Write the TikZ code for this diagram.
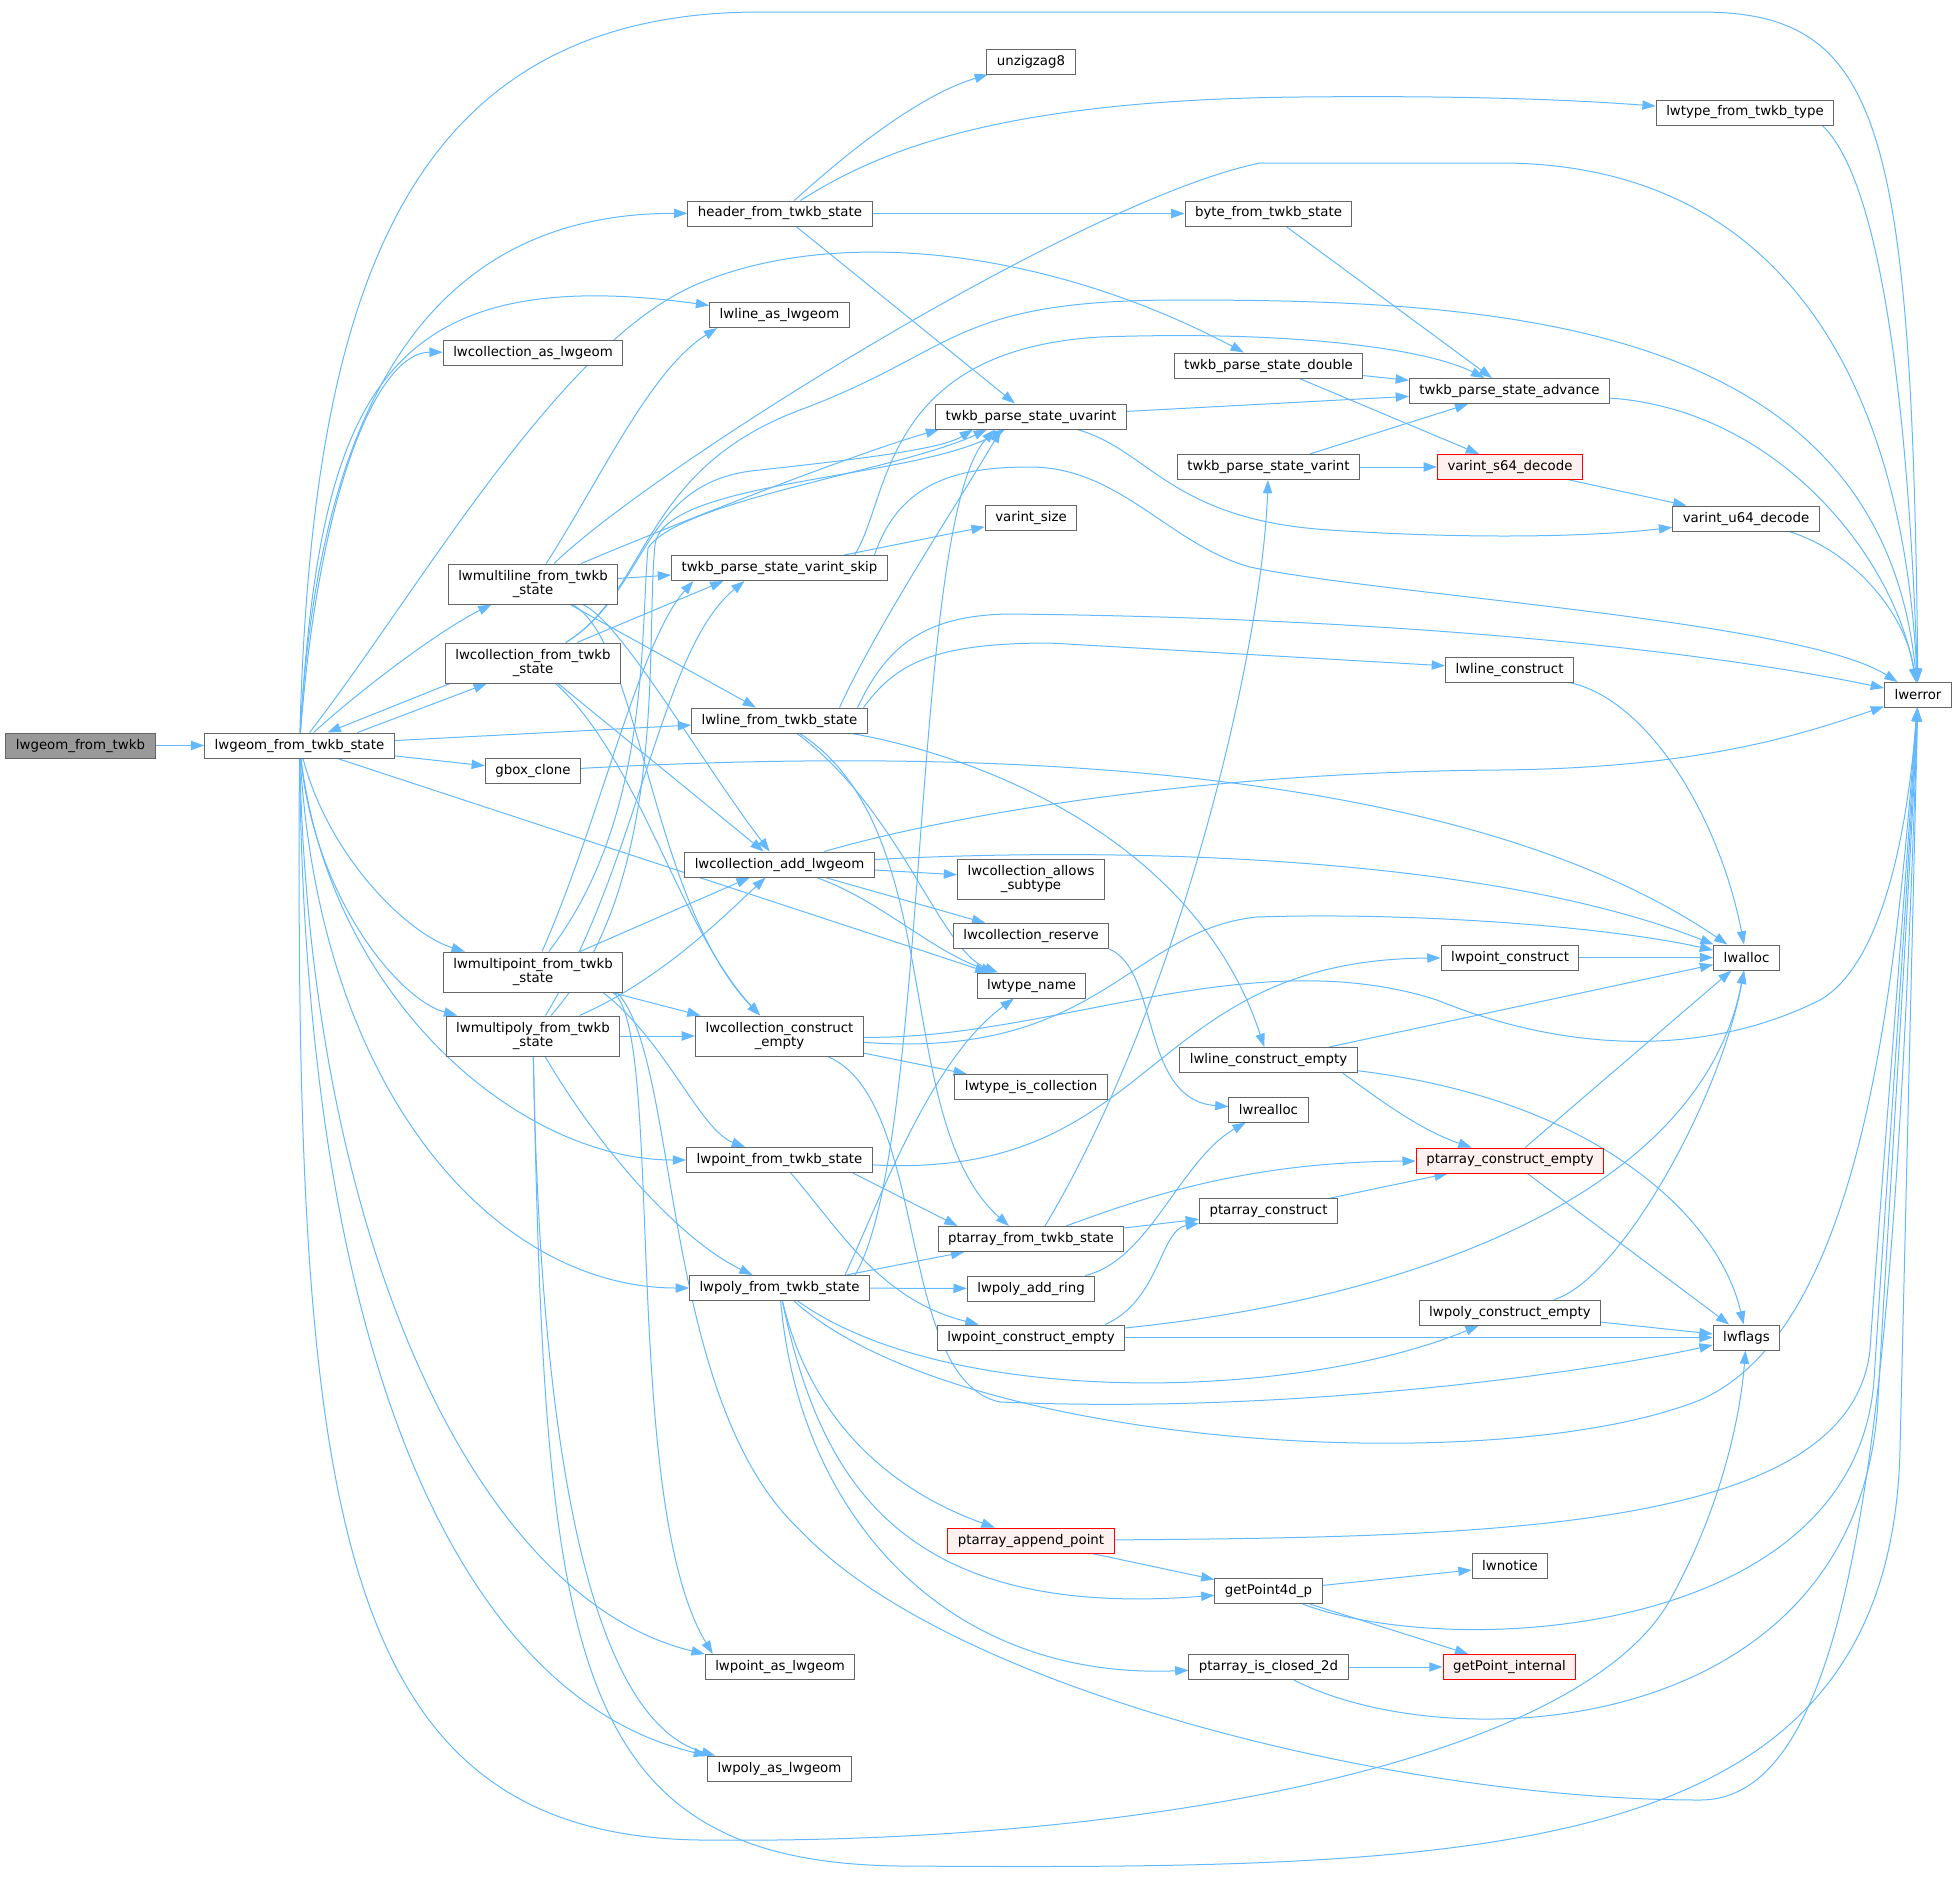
\documentclass[tikz,border=0pt]{standalone}
\usepackage{fontspec}
\setmainfont{DejaVu Sans}
\usepackage{xcolor}
\definecolor{edgeblue}{RGB}{99,184,255}
\definecolor{boxgrey}{RGB}{102,102,102}
\definecolor{rootgrey}{RGB}{153,153,153}
\definecolor{redline}{RGB}{255,0,0}
\definecolor{redfill}{RGB}{255,240,240}
\usetikzlibrary{arrows.meta,backgrounds,calc}

\begin{document}
\begin{tikzpicture}[x=0.75pt,y=-0.75pt,
  font=\fontsize{10}{11}\selectfont,
  fn/.style={draw=boxgrey,fill=white,line width=0.75pt,inner xsep=7.5pt,inner ysep=1pt,minimum height=18.75pt},
  fn2/.style={fn,align=center,minimum height=30pt},
  fnred/.style={fn,draw=redline,fill=redfill},
  fnroot/.style={fn,fill=rootgrey},
  call/.style={draw=edgeblue,line width=0.75pt,-{Triangle[length=10pt,width=7pt]}}]
\useasboundingbox (0,0) rectangle (1957,1882);

\node[fnroot] (root) at (80.5,745.5) {lwgeom\_from\_twkb};
\node[fn] (state) at (299.5,745.5) {lwgeom\_from\_twkb\_state};
\node[fn] (header) at (780,213.5) {header\_from\_twkb\_state};
\node[fn] (unzig) at (1031,61.5) {unzigzag8};
\node[fn] (typefrom) at (1745,112.5) {lwtype\_from\_twkb\_type};
\node[fn] (byte) at (1268.5,213.5) {byte\_from\_twkb\_state};
\node[fn] (lineas) at (779.5,315) {lwline\_as\_lwgeom};
\node[fn] (collas) at (533,352.5) {lwcollection\_as\_lwgeom};
\node[fn] (dbl) at (1268.5,365.5) {twkb\_parse\_state\_double};
\node[fn] (adv) at (1509.5,391) {twkb\_parse\_state\_advance};
\node[fn] (uvar) at (1031,416.5) {twkb\_parse\_state\_uvarint};
\node[fn] (svar) at (1268.5,467) {twkb\_parse\_state\_varint};
\node[fnred] (s64) at (1510,467) {varint\_s64\_decode};
\node[fn] (vsize) at (1031,517.5) {varint\_size};
\node[fn] (u64) at (1746,518.5) {varint\_u64\_decode};
\node[fn] (skip) at (779.5,568) {twkb\_parse\_state\_varint\_skip};
\node[fn2] (mline) at (533,584) {lwmultiline\_from\_twkb\\\_state};
\node[fn2] (collfrom) at (533,663) {lwcollection\_from\_twkb\\\_state};
\node[fn] (lcons) at (1509.5,669.5) {lwline\_construct};
\node[fn] (err) at (1918,695) {lwerror};
\node[fn] (linefrom) at (779.5,720.5) {lwline\_from\_twkb\_state};
\node[fn] (gbox) at (533,771) {gbox\_clone};
\node[fn] (addgeom) at (779.5,864.5) {lwcollection\_add\_lwgeom};
\node[fn2] (allows) at (1031,879) {lwcollection\_allows\\\_subtype};
\node[fn] (reserve) at (1031,936) {lwcollection\_reserve};
\node[fn2] (mpoint) at (533,972) {lwmultipoint\_from\_twkb\\\_state};
\node[fn] (pcons) at (1510,957.5) {lwpoint\_construct};
\node[fn] (alloc) at (1746.5,957.5) {lwalloc};
\node[fn] (tname) at (1031.5,985.5) {lwtype\_name};
\node[fn2] (mpoly) at (533,1036) {lwmultipoly\_from\_twkb\\\_state};
\node[fn2] (cempty) at (779.5,1036) {lwcollection\_construct\\\_empty};
\node[fn] (lcempty) at (1268.5,1060) {lwline\_construct\_empty};
\node[fn] (iscoll) at (1031,1087) {lwtype\_is\_collection};
\node[fn] (realloc) at (1268.5,1109.5) {lwrealloc};
\node[fnred] (paempty) at (1510,1160.5) {ptarray\_construct\_empty};
\node[fn] (pointfrom) at (779.5,1160) {lwpoint\_from\_twkb\_state};
\node[fn] (pafrom) at (1031,1239) {ptarray\_from\_twkb\_state};
\node[fn] (pacons) at (1268.5,1211) {ptarray\_construct};
\node[fn] (polyfrom) at (779.5,1288) {lwpoly\_from\_twkb\_state};
\node[fn] (addring) at (1031,1288.5) {lwpoly\_add\_ring};
\node[fn] (polyempty) at (1510,1312.5) {lwpoly\_construct\_empty};
\node[fn] (ptempty) at (1031,1337.5) {lwpoint\_construct\_empty};
\node[fn] (flags) at (1746.5,1337.5) {lwflags};
\node[fnred] (append) at (1031,1540.5) {ptarray\_append\_point};
\node[fn] (notice) at (1510,1566) {lwnotice};
\node[fn] (gp4d) at (1268.5,1591) {getPoint4d\_p};
\node[fn] (pointas) at (780,1667) {lwpoint\_as\_lwgeom};
\node[fn] (closed) at (1268.5,1667) {ptarray\_is\_closed\_2d};
\node[fnred] (gpint) at (1509.5,1667) {getPoint\_internal};
\node[fn] (polyas) at (779.5,1768.5) {lwpoly\_as\_lwgeom};

\begin{scope}[on background layer]
\draw[call] (root) -- (state);
\draw[call] (state) .. controls (312,300) and (400,12) .. (760,12) -- (1700,12) .. controls (1880,12) and (1912,120) .. (err);
\draw[call] (state) .. controls (318,420) and (420,213) .. (header);
\draw[call] (state) .. controls (320,400) and (380,260) .. (lineas);
\draw[call] (state) .. controls (320,480) and (380,352) .. (collas);
\draw[call] (state) .. controls (420,590) and (560,340) .. (700,283) .. controls (840,225) and (1050,250) .. (dbl);
\draw[call] (state) .. controls (360,690) and (440,630) .. (mline);
\draw[call] ($(state.north)+(58,0)$) -- ($(collfrom.south)+(-46,0)$);
\draw[call] ($(collfrom.south)+(-83,0)$) -- ($(state.north)+(28,0)$);
\draw[call] (state) -- (linefrom);
\draw[call] (state) -- (gbox);
\draw[call] ($(state.south)+(38,0)$) -- ($(tname.north west)+(12,0)$);
\draw[call] (state) .. controls (330,860) and (410,935) .. (mpoint);
\draw[call] (state) .. controls (315,900) and (400,1000) .. (mpoly);
\draw[call] (state) .. controls (330,1000) and (520,1160) .. (pointfrom);
\draw[call] (state) .. controls (320,1100) and (500,1288) .. (polyfrom);
\draw[call] (state) .. controls (310,1250) and (480,1600) .. (pointas.north west);
\draw[call] (state) .. controls (305,1380) and (470,1700) .. (polyas.north west);
\draw[call] (state) .. controls (295,1500) and (330,1835) .. (700,1840) .. controls (1150,1845) and (1580,1760) .. (1670,1600) .. controls (1720,1510) and (1740,1420) .. (flags);

\draw[call] (header) .. controls (850,150) and (920,95) .. (unzig);
\draw[call] (header) .. controls (880,150) and (1000,100) .. (1300,97) .. controls (1500,95) and (1600,102) .. (typefrom);
\draw[call] (header) -- (byte);
\draw[call] (header) -- (uvar);
\draw[call] (byte) -- (adv);
\draw[call] ($(typefrom.south east)+(-12,0)$) .. controls (1880,180) and (1908,400) .. (err);
\draw[call] (dbl) -- (adv);
\draw[call] (dbl) -- (s64);
\draw[call] (svar) -- (adv);
\draw[call] (svar) -- (s64);
\draw[call] (uvar) -- (adv);
\draw[call] (uvar) .. controls (1150,450) and (1170,520) .. (1330,530) .. controls (1480,540) and (1600,536) .. (u64);
\draw[call] (s64) -- (u64);
\draw[call] (adv) .. controls (1780,410) and (1895,560) .. (err);
\draw[call] (u64) .. controls (1850,550) and (1905,610) .. (err);

\draw[call] (skip) -- (vsize);
\draw[call] ($(skip.north)+(75,0)$) .. controls (890,500) and (880,350) .. (1100,337) .. controls (1300,330) and (1430,350) .. (adv);
\draw[call] ($(skip.north)+(95,0)$) .. controls (900,480) and (960,467) .. (1030,467) .. controls (1120,467) and (1170,545) .. (1250,567) .. controls (1380,595) and (1800,620) .. (err);

\draw[call] (mline) .. controls (650,470) and (1080,200) .. (1260,163) -- (1500,163) .. controls (1760,163) and (1900,350) .. (err);
\draw[call] (mline) .. controls (600,480) and (650,370) .. ($(lineas.south west)+(8,0)$);
\draw[call] (mline) .. controls (660,530) and (850,455) .. ($(uvar.south west)+(4,0)$);
\draw[call] (mline) -- (skip);
\draw[call] (mline) -- (linefrom);
\draw[call] (mline) .. controls (620,620) and (700,760) .. (addgeom);
\draw[call] (mline) .. controls (640,640) and (650,900) .. (cempty);

\draw[call] (collfrom) .. controls (650,590) and (640,470) .. (800,410) .. controls (960,350) and (950,300) .. (1180,300) .. controls (1500,300) and (1880,320) .. (err);
\draw[call] (collfrom) .. controls (650,590) and (640,480) .. (760,470) .. controls (850,460) and (940,450) .. ($(uvar.south)+(-58,0)$);
\draw[call] ($(collfrom.north)+(44,0)$) -- ($(skip.south)+(-56,0)$);
\draw[call] (collfrom) -- (addgeom);
\draw[call] (collfrom) .. controls (640,760) and (680,930) .. (cempty);

\draw[call] (gbox) .. controls (1100,740) and (1500,790) .. (alloc);

\draw[call] (addgeom) -- (allows);
\draw[call] (addgeom) -- (reserve);
\draw[call] (addgeom) .. controls (880,900) and (930,950) .. (tname);
\draw[call] (addgeom) .. controls (1150,845) and (1500,860) .. (alloc);
\draw[call] (addgeom) .. controls (950,815) and (1200,772) .. (1500,770) .. controls (1700,768) and (1800,735) .. (err);

\draw[call] (lcons) .. controls (1650,700) and (1720,820) .. (alloc);
\draw[call] (pcons) -- (alloc);

\draw[call] ($(linefrom.north)+(78,0)$) .. controls (885,650) and (920,615) .. (1010,614) .. controls (1400,618) and (1700,650) .. (err);
\draw[call] ($(linefrom.north)+(84,0)$) .. controls (895,665) and (930,643) .. (1050,643) -- (lcons);
\draw[call] (linefrom) .. controls (1000,760) and (1200,850) .. (lcempty);
\draw[call] ($(linefrom.north)+(60,0)$) .. controls (880,620) and (960,500) .. ($(uvar.south)+(-30,0)$);
\draw[call] (linefrom) .. controls (950,830) and (890,1120) .. ($(pafrom.north)+(-22,0)$);
\draw[call] (linefrom) .. controls (900,810) and (940,950) .. (tname);

\draw[call] ($(pointfrom.south east)+(-20,0)$) -- ($(pafrom.north west)+(20,0)$);
\draw[call] (pointfrom) .. controls (840,1230) and (880,1300) .. (ptempty);
\draw[call] (pointfrom) .. controls (1160,1180) and (1140,960) .. (pcons);

\draw[call] ($(polyfrom.north east)+(-25,0)$) .. controls (880,1200) and (930,1060) .. (tname);
\draw[call] (polyfrom) -- (pafrom);
\draw[call] ($(polyfrom.north east)+(-15,0)$) .. controls (930,1150) and (910,520) .. ($(uvar.south)+(-36,0)$);
\draw[call] (polyfrom) -- (addring);
\draw[call] (polyfrom) .. controls (950,1410) and (1300,1400) .. (polyempty);
\draw[call] (polyfrom) .. controls (960,1450) and (1500,1480) .. (1700,1400) .. controls (1860,1330) and (1895,1000) .. (err);
\draw[call] (polyfrom) .. controls (810,1420) and (890,1490) .. (append);
\draw[call] (polyfrom) .. controls (820,1480) and (900,1620) .. (gp4d);
\draw[call] (polyfrom) .. controls (800,1520) and (950,1680) .. (closed);

\draw[call] (mpoint) -- (addgeom);
\draw[call] (mpoint) .. controls (600,820) and (640,640) .. ($(skip.south)+(-86,0)$);
\draw[call] (mpoint) .. controls (650,820) and (640,640) .. (648,548) .. controls (680,500) and (900,470) .. ($(uvar.south)+(-44,0)$);
\draw[call] (mpoint) -- (cempty);
\draw[call] ($(mpoint.south)+(70,0)$) .. controls (665,1040) and (700,1130) .. (pointfrom);
\draw[call] ($(mpoint.south east)+(-10,0)$) .. controls (665,1030) and (620,1500) .. ($(pointas.north west)+(8,0)$);
\draw[call] ($(mpoint.south east)+(-6,0)$) .. controls (680,1060) and (660,1400) .. (800,1530) .. controls (950,1690) and (1400,1800) .. (1700,1800) .. controls (1860,1800) and (1895,1400) .. (err);

\draw[call] (mpoly) -- (cempty);
\draw[call] (mpoly) .. controls (660,980) and (720,920) .. (addgeom);
\draw[call] (mpoly) .. controls (640,860) and (660,650) .. ($(skip.south)+(-35,0)$);
\draw[call] (mpoly) .. controls (670,880) and (645,640) .. (655,545) .. controls (662,480) and (910,480) .. ($(uvar.south)+(-26,0)$);
\draw[call] (mpoly) .. controls (600,1150) and (680,1240) .. (polyfrom);
\draw[call] (mpoly) .. controls (540,1450) and (590,1720) .. ($(polyas.north west)+(8,0)$);
\draw[call] (mpoly) .. controls (545,1650) and (565,1862) .. (900,1866) .. controls (1500,1870) and (1890,1860) .. (1900,1450) -- (err);

\draw[call] (cempty) -- (iscoll);
\draw[call] (cempty) .. controls (1100,1060) and (1130,930) .. (1257,917) .. controls (1400,912) and (1600,925) .. (alloc);
\draw[call] (cempty) .. controls (1050,1040) and (1250,940) .. (1437,1000) .. controls (1560,1050) and (1700,1060) .. (1820,1000) .. controls (1890,960) and (1910,800) .. (err);
\draw[call] (cempty) .. controls (930,1100) and (895,1380) .. (1000,1402) .. controls (1300,1415) and (1600,1370) .. (flags);

\draw[call] (lcempty) -- (alloc);
\draw[call] ($(lcempty.south east)+(-15,0)$) .. controls (1380,1100) and (1420,1130) .. (paempty);
\draw[call] (lcempty) .. controls (1600,1100) and (1720,1220) .. (flags);
\draw[call] (paempty) -- (alloc);
\draw[call] (paempty) -- (flags);
\draw[call] (pacons) -- (paempty);
\draw[call] (pafrom) .. controls (1150,1195) and (1250,1162) .. (paempty);
\draw[call] (pafrom) -- (pacons);
\draw[call] ($(pafrom.north)+(14,0)$) .. controls (1180,1000) and (1262,650) .. (svar);
\draw[call] (addring) .. controls (1150,1260) and (1180,1160) .. (realloc);
\draw[call] (reserve.south east) .. controls (1160,970) and (1140,1100) .. (realloc);
\draw[call] ($(ptempty.north east)+(-20,0)$) .. controls (1160,1300) and (1160,1230) .. (pacons);
\draw[call] (ptempty) .. controls (1400,1300) and (1700,1200) .. (alloc);
\draw[call] (ptempty) -- (flags);
\draw[call] (polyempty) .. controls (1620,1280) and (1720,1100) .. (alloc);
\draw[call] (polyempty) -- (flags);

\draw[call] (append) -- (gp4d);
\draw[call] (append) .. controls (1500,1537) and (1850,1530) .. (1870,1350) .. controls (1880,1200) and (1905,900) .. (err);
\draw[call] (gp4d) -- (notice);
\draw[call] (gp4d) -- (gpint);
\draw[call] (gp4d) .. controls (1450,1660) and (1855,1640) .. (1874,1380) .. controls (1884,1220) and (1907,900) .. (err);
\draw[call] (closed) -- (gpint);
\draw[call] (closed) .. controls (1450,1760) and (1860,1740) .. (1878,1400) .. controls (1888,1220) and (1909,900) .. (err);
\end{scope}
\end{tikzpicture}
\end{document}
